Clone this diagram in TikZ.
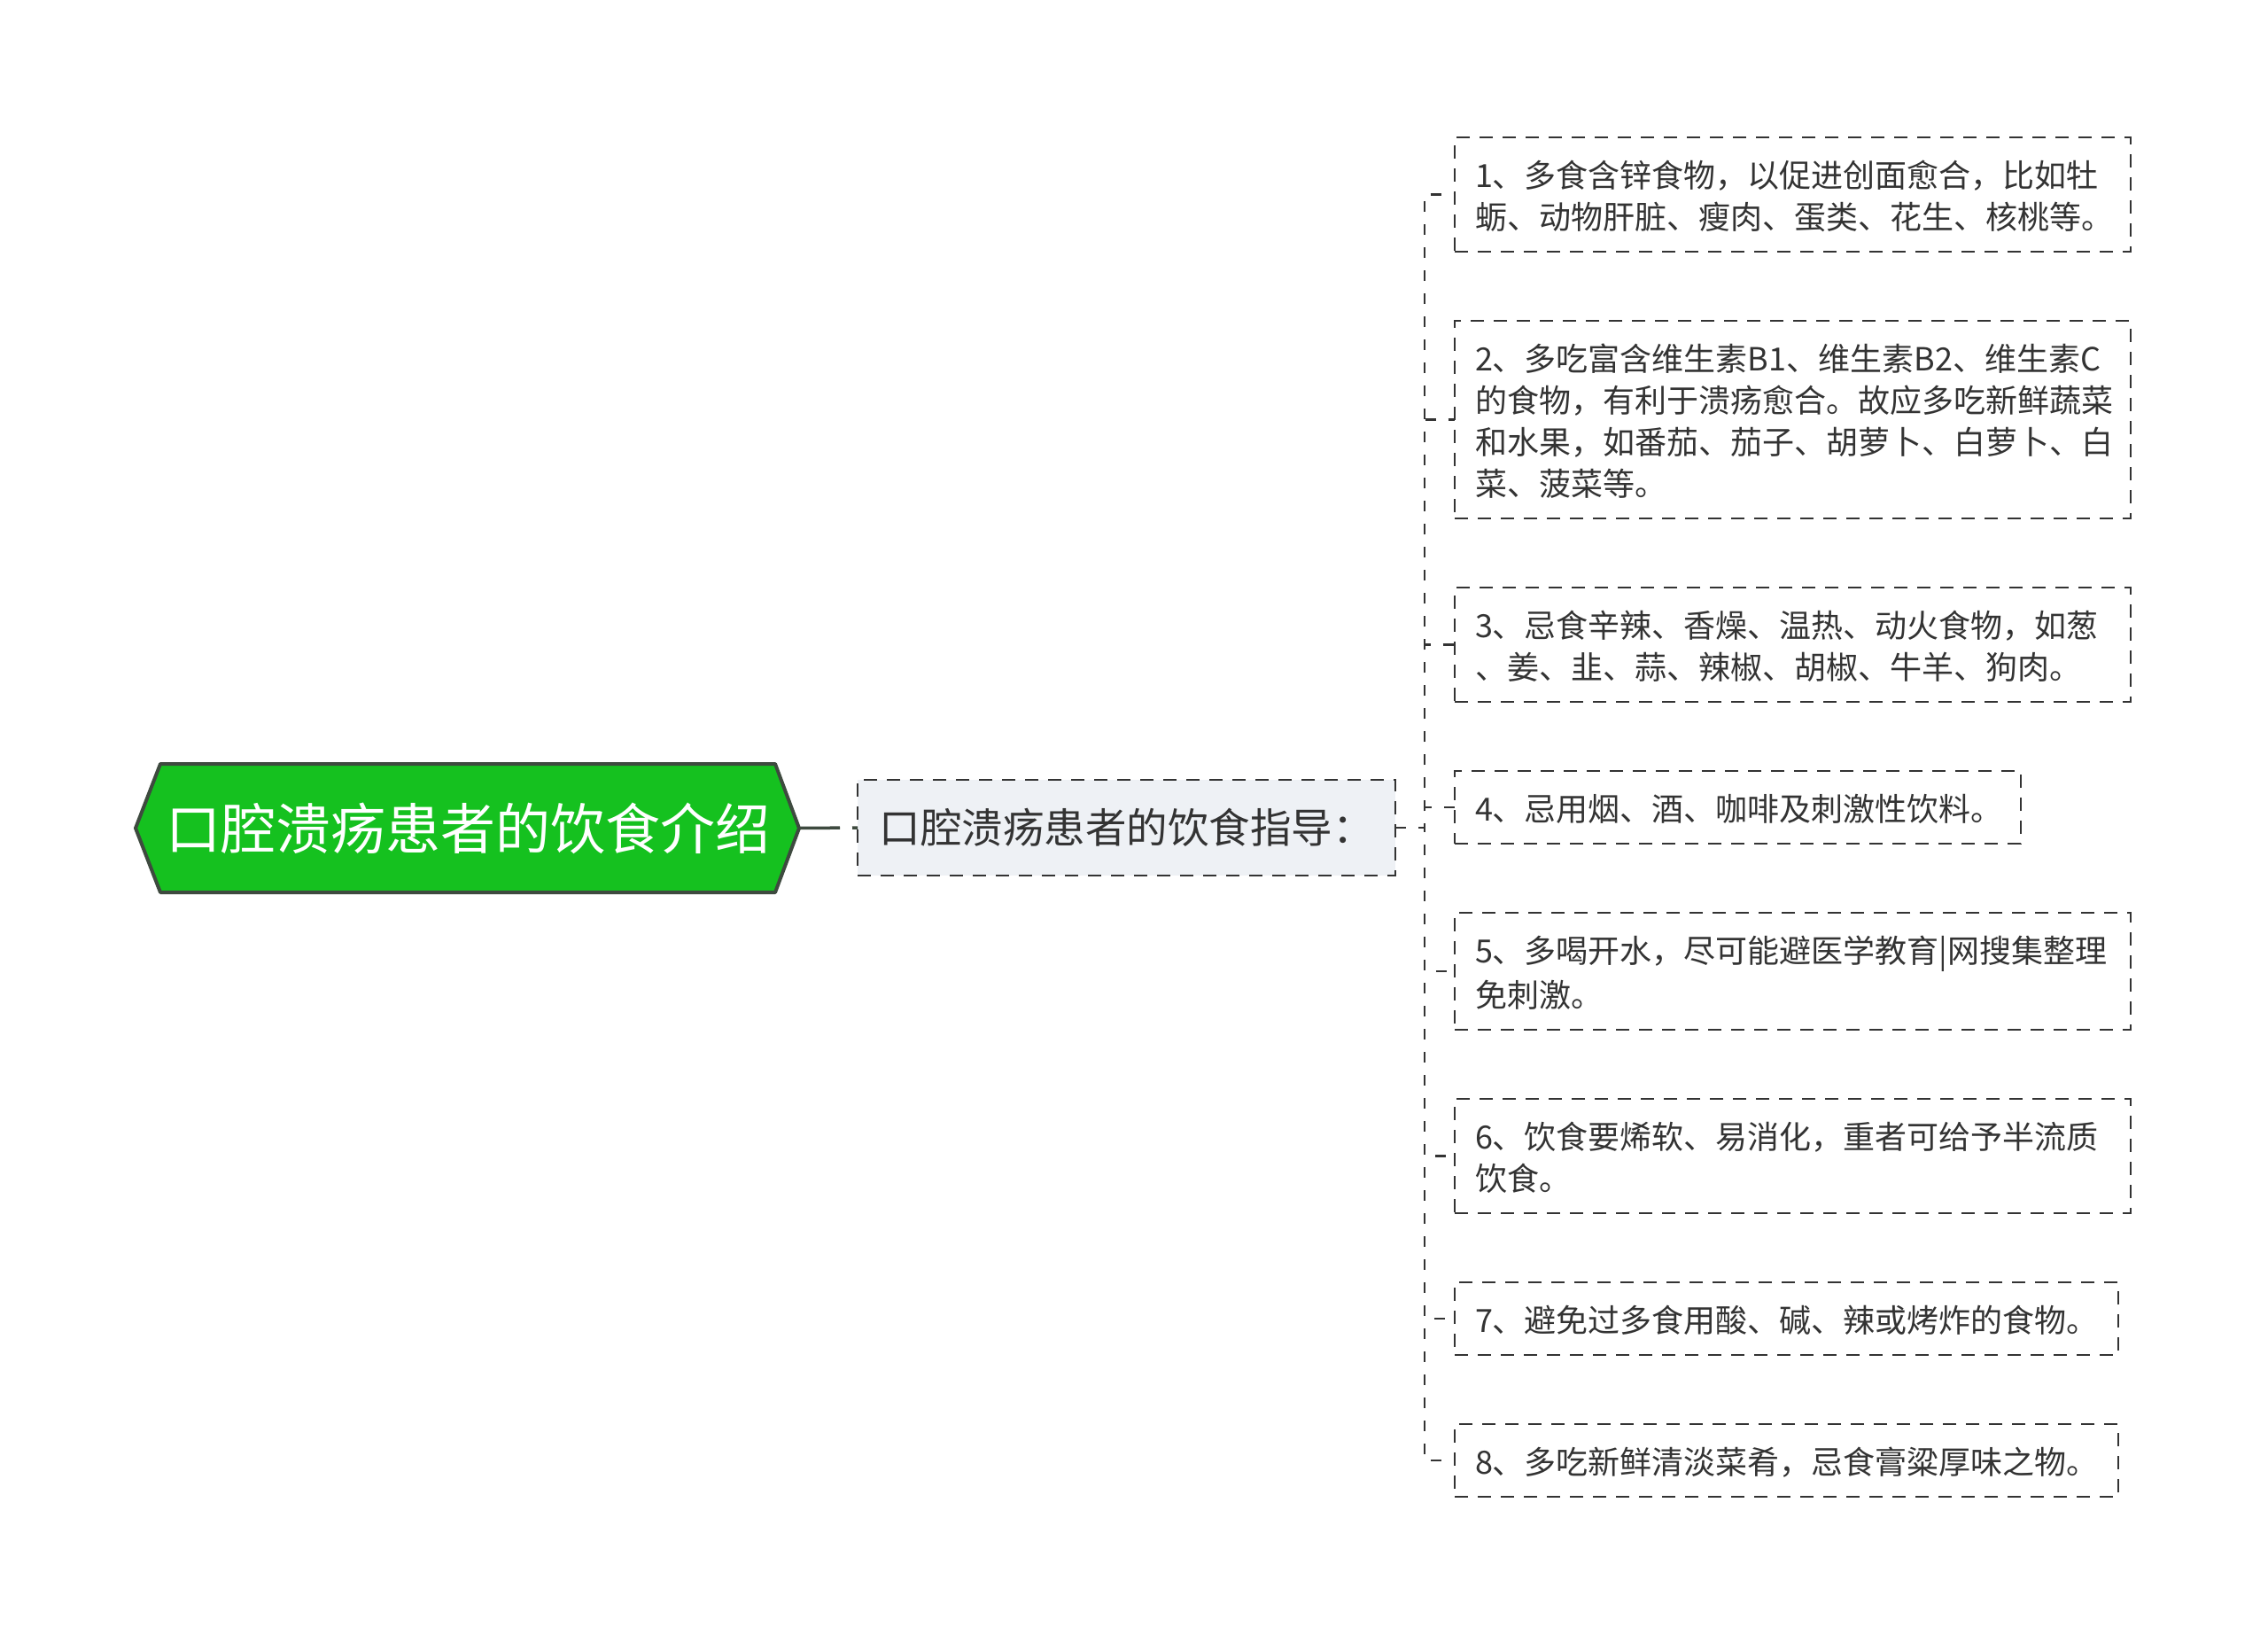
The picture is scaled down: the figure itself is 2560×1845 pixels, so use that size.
\documentclass[tikz,border=0pt]{standalone}
\usepackage{fontspec}
\setmainfont{Noto Sans CJK SC}
\usetikzlibrary{positioning,backgrounds}
\definecolor{rootgreen}{HTML}{15C11F}
\definecolor{rootline}{HTML}{3E4A3F}
\definecolor{linegray}{HTML}{333333}
\definecolor{subfill}{HTML}{EEF1F5}
\newcommand\tipstrut{\rule[-8pt]{0pt}{47pt}}

\begin{document}
\begin{tikzpicture}
      [x=1pt,y=-1pt,
        topic/.style={
          text=white,
          font=\fontsize{62}{70}\selectfont,
          minimum width=694pt,
          minimum height=145pt,
          inner sep=0pt, outer sep=0pt},
        topicframe/.style={draw=rootline, fill=rootgreen, line width=4pt, line join=round},
        subtopic/.style={
          draw=linegray, fill=subfill,
          line width=2.7pt, dash pattern=on 15pt off 11pt,
          text=linegray,
          font=\fontsize{46.5}{52}\selectfont,
          minimum width=607pt,
          minimum height=108pt,
          inner sep=0pt, outer sep=0pt},
        tipbox/.style={
          draw=linegray,
          line width=2.7pt, dash pattern=on 15pt off 11pt,
          text=linegray,
          font=\fontsize{36}{47}\selectfont,
          text width=#1,
          align=left,
          inner xsep=23pt, inner ysep=17.5pt, outer sep=0pt},
        tipbox/.default=717pt,
        next/.style={below=78pt of #1.south west, anchor=north west},
        branch/.style={draw=rootline, line width=3.5pt, dash pattern=on 46pt off 14pt},
        link/.style={draw=linegray, line width=2.7pt, dash pattern=on 12pt off 14pt},]
      \node[topic] (root) at (528,934.5) {口腔溃疡患者的饮食介绍};
      \coordinate (roottip) at ([xshift=27pt]root.east);
      \coordinate (roottail) at ([xshift=-28pt]root.west);
      \node[subtopic] (sub) at (1271.5,934) {口腔溃疡患者的饮食指导：};
      \node[tipbox, anchor=north west] (tip1) at (1642,155)
        {\tipstrut 1、多食含锌食物，以促进创面愈合，比如牡\\蛎、动物肝脏、瘦肉、蛋类、花生、核桃等。\tipstrut};
      \node[tipbox, next=tip1] (tip2)
        {\tipstrut 2、多吃富含维生素B1、维生素B2、维生素C\\的食物，有利于溃疡愈合。故应多吃新鲜蔬菜\\和水果，如番茄、茄子、胡萝卜、白萝卜、白\\菜、菠菜等。\tipstrut};
      \node[tipbox, next=tip2] (tip3)
        {\tipstrut 3、忌食辛辣、香燥、温热、动火食物，如葱\\、姜、韭、蒜、辣椒、胡椒、牛羊、狗肉。\tipstrut};
      \node[tipbox=593pt, next=tip3] (tip4)
        {\tipstrut 4、忌用烟、酒、咖啡及刺激性饮料。\tipstrut};
      \node[tipbox, next=tip4] (tip5)
        {\tipstrut 5、多喝开水，尽可能避医学教育|网搜集整理\\免刺激。\tipstrut};
      \node[tipbox, next=tip5] (tip6)
        {\tipstrut 6、饮食要烯软、易消化，重者可给予半流质\\饮食。\tipstrut};
      \node[tipbox=703pt, next=tip6] (tip7)
        {\tipstrut 7、避免过多食用酸、碱、辣或烤炸的食物。\tipstrut};
      \node[tipbox=703pt, next=tip7] (tip8)
        {\tipstrut 8、多吃新鲜清淡菜肴，忌食膏粱厚味之物。\tipstrut};
      \begin{scope}[on background layer]
        \fill[white] (0,0) rectangle (2560,1845);
        \path[topicframe] (root.north west) -- (root.north east) -- (roottip)
          -- (root.south east) -- (root.south west) -- (roottail) -- cycle;
      \end{scope}
      \draw[branch] (roottip) -- (sub.west);
      \foreach \i in {1,...,8}
        \draw[link] (sub.east) -- ++(33pt,0) |- (tip\i.west);
      \useasboundingbox (0,0) rectangle (2560,1845);
    \end{tikzpicture}
\end{document}
